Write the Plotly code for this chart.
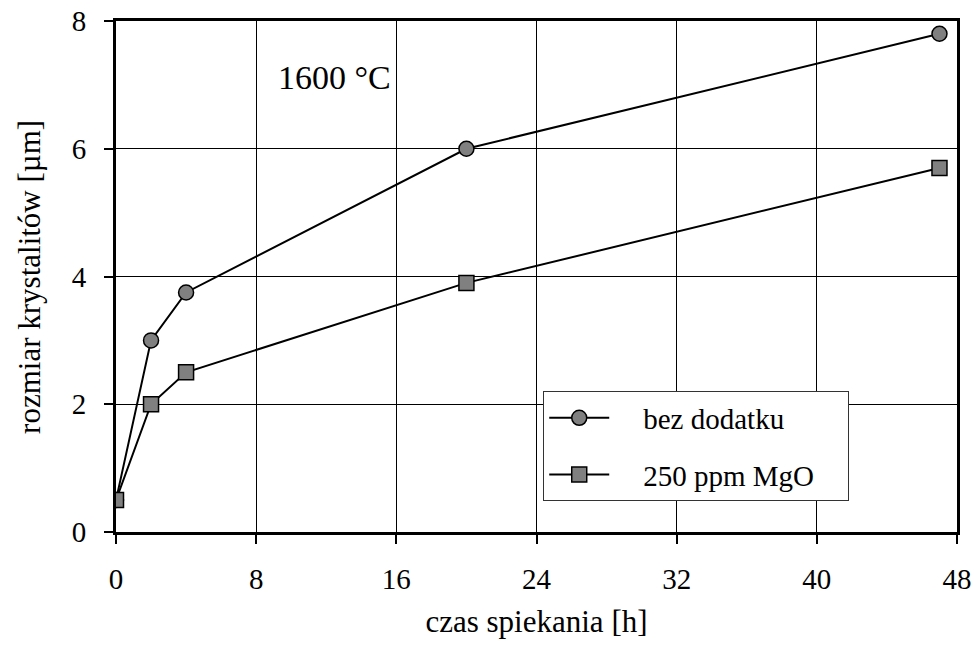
import plotly.graph_objects as go

x_bez = [0, 2, 4, 20, 47]
y_bez = [0.5, 3.0, 3.75, 6.0, 7.8]
x_mgo = [0, 2, 4, 20, 47]
y_mgo = [0.5, 2.0, 2.5, 3.9, 5.7]
names = ["bez dodatku", "250 ppm MgO"]
x_ticks = [0, 8, 16, 24, 32, 40, 48]
y_ticks = [0, 2, 4, 6, 8]

FONT = "Liberation Serif, Times New Roman, serif"
PAD = "\u00a0\u00a0\u00a0\u00a0"
TAIL = "\u00a0\u00a0\u00a0\u00a0"

fig = go.Figure()
fig.add_trace(go.Scatter(
    x=x_bez, y=y_bez, name=PAD + names[0] + TAIL, mode="lines+markers", legendgroup="a",
    line=dict(color="black", width=2),
    marker=dict(symbol="circle", size=15, color="#808080", line=dict(color="black", width=1.5)),
))
fig.add_trace(go.Scatter(
    x=x_mgo, y=y_mgo, name=PAD + names[1] + TAIL, mode="lines+markers", legendgroup="b",
    line=dict(color="black", width=2),
    marker=dict(symbol="square", size=15, color="#808080", line=dict(color="black", width=1.5)),
))

axis_common = dict(
    showline=True, linecolor="black", linewidth=3, mirror=True,
    showgrid=True, gridcolor="black", gridwidth=1.2,
    ticks="outside", ticklen=9, tickwidth=2, tickcolor="black",
    zeroline=False, automargin=False,
    tickfont=dict(family=FONT, size=29, color="black"),
)

fig.update_layout(
    width=974, height=645,
    margin=dict(l=116, r=17, t=21, b=113, autoexpand=False),
    paper_bgcolor="white", plot_bgcolor="white",
    font=dict(family=FONT, color="black"),
    xaxis=dict(range=[0, 48], tickvals=x_ticks, ticklabelstandoff=10,
               title=dict(text="czas spiekania [h]", font=dict(family=FONT, size=31), standoff=17),
               **axis_common),
    yaxis=dict(range=[0, 8], tickvals=y_ticks, ticklabelstandoff=12,
               **axis_common),
    legend=dict(x=0.508, y=0.275, xanchor="left", yanchor="top",
                bgcolor="white", bordercolor="#333333", borderwidth=1,
                font=dict(family=FONT, size=29),
                traceorder="grouped", tracegroupgap=16, itemwidth=60),
    showlegend=True,
    annotations=[
        dict(text="1600 °C", x=0.19, y=0.89, xref="paper", yref="paper",
             xanchor="left", yanchor="middle", showarrow=False,
             font=dict(family=FONT, size=34, color="black")),
        dict(text="rozmiar krystalitów [µm]", x=-0.103, y=0.5, xref="paper", yref="paper",
             xanchor="center", yanchor="middle", showarrow=False, textangle=-90,
             font=dict(family=FONT, size=31, color="black")),
    ],
)

fig.write_html("out.html")
